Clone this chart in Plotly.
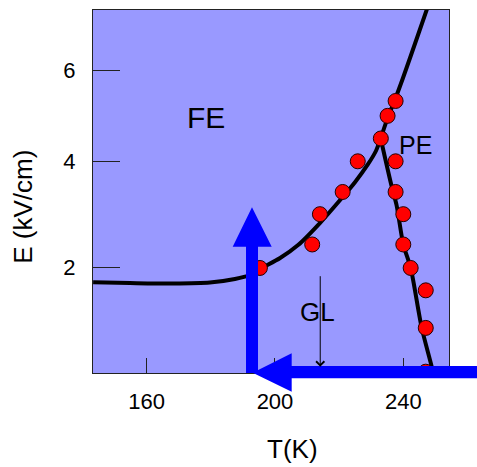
import plotly.graph_objects as go

# ---- data (T in K, E in kV/cm) ----
marker_T = [237.6, 235.1, 233.0, 225.8, 237.6, 221.1, 237.6, 214.0, 240.0, 211.6,
            240.0, 195.3, 242.3, 247.0, 247.0, 247.0]
marker_E = [5.31, 4.98, 4.49, 4.01, 4.01, 3.39, 3.39, 2.96, 2.96, 2.40,
            2.40, 1.99, 1.99, 1.62, 1.05, 0.485]

fe_T = [143.3, 154.8, 168.2, 179.7, 187.5, 192.2, 195.9, 201.6, 207.2, 214.0,
        220.3, 225.0, 229.0, 231.5, 232.95]
fe_E = [1.750, 1.738, 1.730, 1.746, 1.804, 1.871, 1.989, 2.161, 2.390, 2.793,
        3.232, 3.590, 3.950, 4.230, 4.49]

up_T = [232.95, 235.1, 237.6, 239.9, 242.2, 244.8, 247.5]
up_E = [4.49, 4.93, 5.376, 5.83, 6.32, 6.89, 7.50]

pe_T = [232.95, 236.4, 237.9, 240.0, 242.3, 245.75, 248.85, 249.3]
pe_E = [4.49, 3.493, 3.134, 2.40, 1.99, 1.05, 0.543, 0.447]

x_ticks = [160, 200, 240]
y_ticks = [2, 4, 6]
x_range = [143.26, 254.25]
E_range = [0.470, 7.45]

# display scale of the E axis in the original figure
P = 0.72
def f(v):
    if isinstance(v, (list, tuple)):
        return [e ** P for e in v]
    return v ** P

FONT = "Liberation Sans, Arial, sans-serif"

fig = go.Figure()
for T, E in [(fe_T, fe_E), (up_T, up_E), (pe_T, pe_E)]:
    fig.add_trace(go.Scatter(x=T, y=f(E), mode="lines",
                             line=dict(color="black", width=4, shape="spline", smoothing=0.8),
                             hoverinfo="skip", showlegend=False))
fig.add_trace(go.Scatter(x=marker_T, y=f(marker_E), mode="markers",
                         marker=dict(size=15, color="#ff0000", line=dict(color="#220000", width=1)),
                         showlegend=False))

blue = "#0000ff"
# vertical arrow (paper coords)
fig.add_shape(type="path", xref="paper", yref="paper", layer="above",
              path="M0.4298,0 L0.4635,0 L0.4635,0.3479 L0.5020,0.3479 L0.4466,0.4565 L0.3924,0.3479 L0.4298,0.3479 Z",
              fillcolor=blue, line=dict(width=0))
# horizontal arrow
fig.add_shape(type="path", xref="paper", yref="paper", layer="above",
              path="M1.1,0.0193 L0.5581,0.0193 L0.5581,0.0543 L0.4486,0.0008 L0.5581,-0.0515 L0.5581,-0.0146 L1.1,-0.0146 Z",
              fillcolor=blue, line=dict(width=0))

# GL arrow
fig.add_annotation(x=214.1, y=f(0.543), xref="x", yref="y", ax=0, ay=-92, axref="pixel", ayref="pixel",
                   text="", showarrow=True, arrowhead=4, arrowsize=1.6, arrowwidth=1, arrowcolor="black")
fig.add_annotation(x=213.2, y=f(1.287), text="GL", showarrow=False,
                   xanchor="center", yanchor="middle",
                   font=dict(family=FONT, size=26, color="black"))
fig.add_annotation(x=178.4, y=f(4.94), text="FE", showarrow=False,
                   xanchor="center", yanchor="middle",
                   font=dict(family=FONT, size=30, color="black"))
fig.add_annotation(x=243.9, y=f(4.357), text="PE", showarrow=False,
                   xanchor="center", yanchor="middle",
                   font=dict(family=FONT, size=25, color="black"))

# axis titles
fig.add_annotation(xref="paper", yref="paper", x=(292.8 - 93) / 356, y=(373 - 449) / 363,
                   xanchor="center", yanchor="middle",
                   text="T(K)", showarrow=False, font=dict(family=FONT, size=26, color="black"))
fig.add_annotation(xref="paper", yref="paper", x=(23 - 93) / 356, y=(373 - 206.7) / 363,
                   xanchor="center", yanchor="middle",
                   text="E (kV/cm)", textangle=-90, showarrow=False,
                   font=dict(family=FONT, size=26, color="black"))

fig.update_layout(
    width=477, height=467,
    margin=dict(l=93, r=28, t=10, b=94),
    paper_bgcolor="white", plot_bgcolor="#9999ff",
    font=dict(family=FONT, size=22, color="black"),
    showlegend=False,
)
fig.update_xaxes(range=x_range, tickvals=x_ticks, ticktext=[str(t) for t in x_ticks],
                 ticks="inside", ticklen=15, tickcolor="#222", tickwidth=1,
                 showgrid=False, zeroline=False, showline=True, linecolor="#222",
                 linewidth=1, mirror=True, ticklabelstandoff=9,
                 tickfont=dict(family=FONT, size=22, color="black"))
fig.update_yaxes(range=f(E_range), tickvals=f(y_ticks), ticktext=[str(t) for t in y_ticks],
                 ticks="inside", ticklen=27, tickcolor="#222", tickwidth=1,
                 showgrid=False, zeroline=False, showline=True, linecolor="#222",
                 linewidth=1, mirror=True, ticklabelstandoff=12,
                 tickfont=dict(family=FONT, size=22, color="black"))

fig.write_html("out.html", config={"displayModeBar": False},
               post_script="document.body.style.margin='0px';document.body.style.overflow='hidden';")
